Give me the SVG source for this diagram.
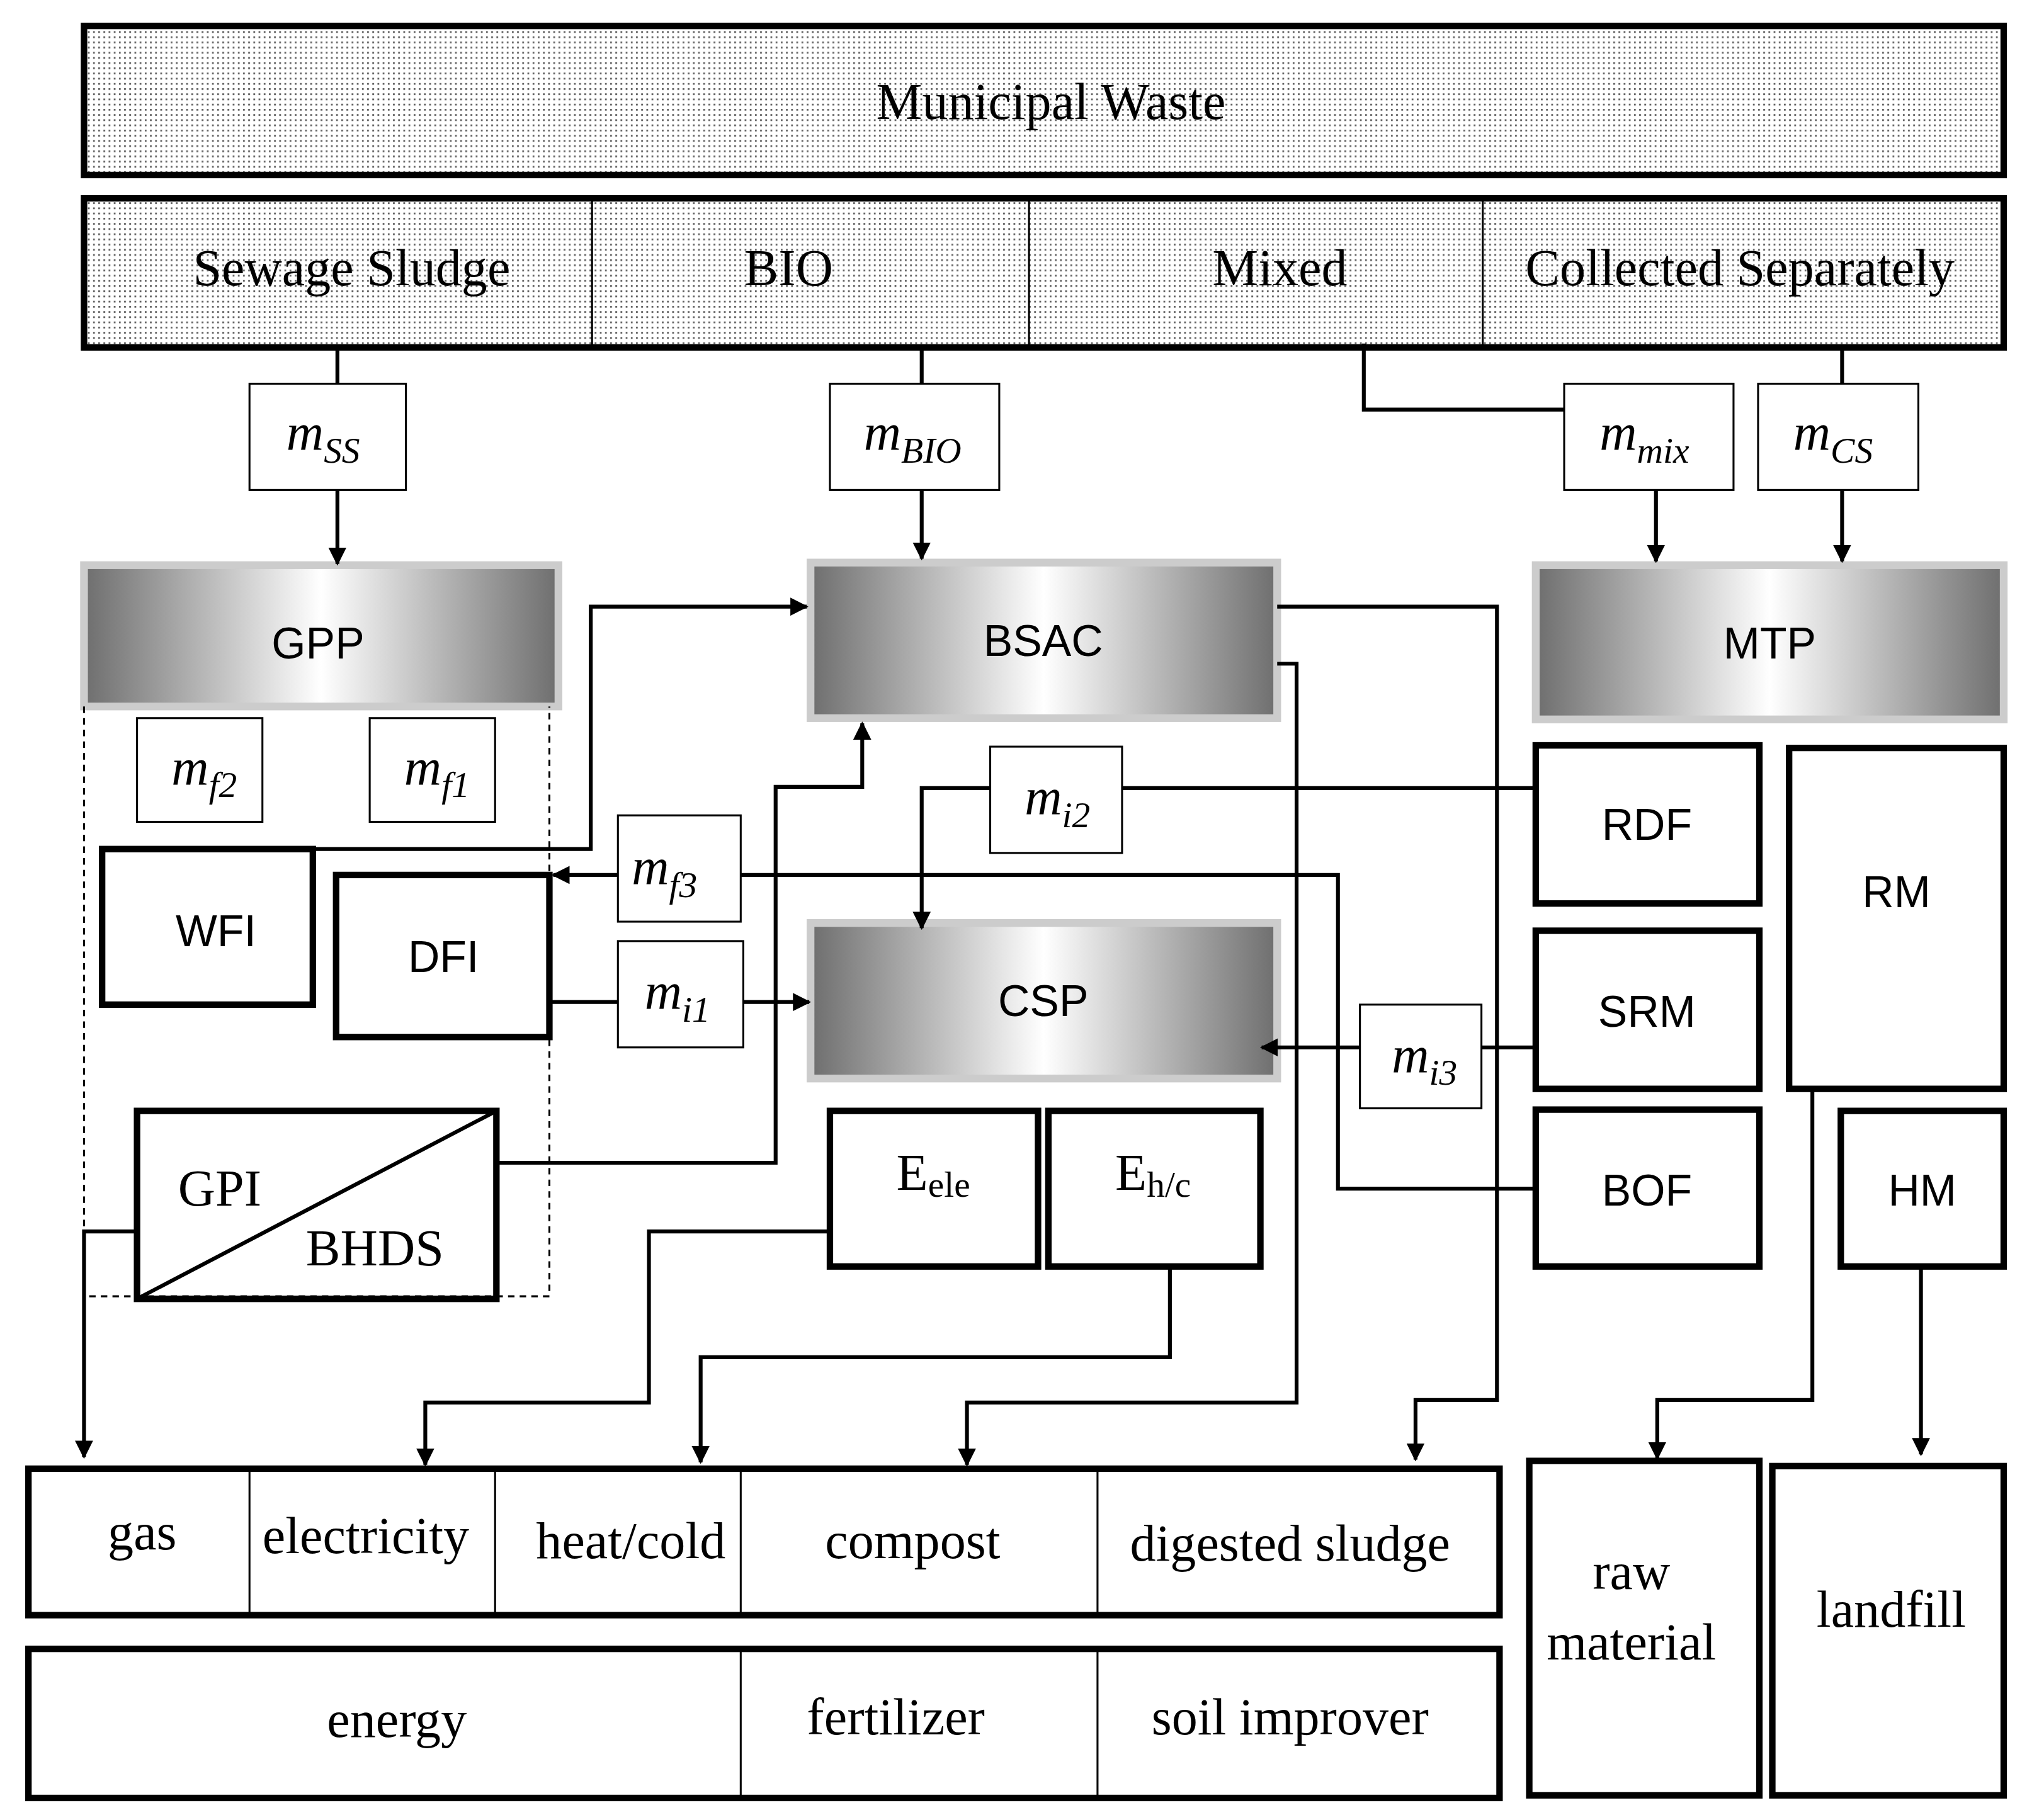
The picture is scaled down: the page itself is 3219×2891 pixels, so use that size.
<svg xmlns="http://www.w3.org/2000/svg" width="3219" height="2891" viewBox="0 0 3219 2891">
<defs>
<pattern id="dots" width="4" height="4" patternUnits="userSpaceOnUse"><rect width="4" height="4" fill="#fff"/><rect width="1.4" height="1.4" fill="#666"/></pattern>
<linearGradient id="gh" x1="0" x2="1" y1="0" y2="0"><stop offset="0" stop-color="#6e6e6e"/><stop offset="0.5" stop-color="#ffffff"/><stop offset="1" stop-color="#6e6e6e"/></linearGradient>
<marker id="ar" viewBox="0 0 10 10" refX="9" refY="5" markerWidth="14" markerHeight="14" markerUnits="userSpaceOnUse" orient="auto"><path d="M0,0 L10,5 L0,10 z" fill="#000"/></marker>
<style>
.thick{fill:#fff;stroke:#000;stroke-width:5}
.thin{fill:#fff;stroke:#000;stroke-width:1.5}
.dot{fill:url(#dots);stroke:#000;stroke-width:5}
.proc{fill:url(#gh);stroke:#ccc;stroke-width:6}
.ser{font-family:"Liberation Serif",serif;font-size:40px;text-anchor:middle}
.san{font-family:"Liberation Sans",sans-serif;font-size:34px;text-anchor:middle}
.m{font-family:"Liberation Serif",serif;font-style:italic;font-size:40px;text-anchor:middle}
.c{fill:none;stroke:#000;stroke-width:3}
.ca{fill:none;stroke:#000;stroke-width:3;marker-end:url(#ar)}
</style>
</defs>
<rect width="3219" height="2891" fill="#fff"/>
<g transform="scale(2.0529,2.0591)">
<g id="municipal"><rect class="dot" x="65" y="20" width="1485" height="115"/><text class="ser" x="813" y="92">Municipal Waste</text></g>
<g id="sources"><rect class="dot" x="65" y="153" width="1485" height="115"/>
<line x1="458" y1="153" x2="458" y2="268" stroke="#000" stroke-width="1.5"/><line x1="796" y1="153" x2="796" y2="268" stroke="#000" stroke-width="1.5"/><line x1="1147" y1="153" x2="1147" y2="268" stroke="#000" stroke-width="1.5"/>
<text class="ser" x="272" y="220">Sewage Sludge</text><text class="ser" x="610" y="220">BIO</text><text class="ser" x="990" y="220">Mixed</text><text class="ser" x="1346" y="220">Collected Separately</text></g>
<g id="mSS"><rect class="thin" x="193" y="296" width="121" height="82"/><text class="m" x="250" y="347">m<tspan font-size="28" dy="10">SS</tspan></text></g>
<g id="mBIO"><rect class="thin" x="642" y="296" width="131" height="82"/><text class="m" x="706" y="347">m<tspan font-size="28" dy="10">BIO</tspan></text></g>
<g id="mmix"><rect class="thin" x="1210" y="296" width="131" height="82"/><text class="m" x="1272" y="347">m<tspan font-size="28" dy="10">mix</tspan></text></g>
<g id="mCS"><rect class="thin" x="1360" y="296" width="124" height="82"/><text class="m" x="1418" y="347">m<tspan font-size="28" dy="10">CS</tspan></text></g>
<g id="GPP"><rect class="proc" x="65" y="436" width="367" height="109"/><text class="san" x="246" y="508">GPP</text></g>
<g id="BSAC"><rect class="proc" x="627" y="434" width="361" height="120"/><text class="san" x="807" y="506">BSAC</text></g>
<g id="MTP"><rect class="proc" x="1188" y="436" width="362" height="119"/><text class="san" x="1369" y="508">MTP</text></g>
<g id="CSP"><rect class="proc" x="627" y="712" width="361" height="120"/><text class="san" x="807" y="784">CSP</text></g>
<g id="mf2"><rect class="thin" x="106" y="554" width="97" height="80"/><text class="m" x="158" y="605">m<tspan font-size="28" dy="10">f2</tspan></text></g>
<g id="mf1"><rect class="thin" x="286" y="554" width="97" height="80"/><text class="m" x="338" y="605">m<tspan font-size="28" dy="10">f1</tspan></text></g>
<g id="mf3"><rect class="thin" x="478" y="629" width="95" height="82"/><text class="m" x="514" y="682">m<tspan font-size="28" dy="10">f3</tspan></text></g>
<g id="mi1"><rect class="thin" x="478" y="726" width="97" height="82"/><text class="m" x="524" y="778">m<tspan font-size="28" dy="10">i1</tspan></text></g>
<g id="mi2"><rect class="thin" x="766" y="576" width="102" height="82"/><text class="m" x="818" y="628">m<tspan font-size="28" dy="10">i2</tspan></text></g>
<g id="mi3"><rect class="thin" x="1052" y="775" width="94" height="80"/><text class="m" x="1102" y="827">m<tspan font-size="28" dy="10">i3</tspan></text></g>
<g id="WFI"><rect class="thick" x="79" y="655" width="163" height="120"/><text class="san" x="167" y="730">WFI</text></g>
<g id="DFI"><rect class="thick" x="260" y="675" width="165" height="125"/><text class="san" x="343" y="750">DFI</text></g>
<g id="GPI-BHDS"><rect class="thick" x="106" y="857" width="278" height="145"/><line x1="106" y1="1002" x2="384" y2="857" stroke="#000" stroke-width="3"/><text class="ser" x="170" y="930">GPI</text><text class="ser" x="290" y="976">BHDS</text></g>
<g id="Eele"><rect class="thick" x="642" y="857" width="161" height="120"/><text class="ser" x="722" y="918">E<tspan font-size="28" dy="5">ele</tspan></text></g>
<g id="Ehc"><rect class="thick" x="811" y="857" width="164" height="120"/><text class="ser" x="892" y="918">E<tspan font-size="28" dy="5">h/c</tspan></text></g>
<g id="RDF"><rect class="thick" x="1188" y="575" width="173" height="122"/><text class="san" x="1274" y="648">RDF</text></g>
<g id="SRM"><rect class="thick" x="1188" y="718" width="173" height="122"/><text class="san" x="1274" y="792">SRM</text></g>
<g id="BOF"><rect class="thick" x="1188" y="856" width="173" height="121"/><text class="san" x="1274" y="930">BOF</text></g>
<g id="RM"><rect class="thick" x="1384" y="577" width="166" height="263"/><text class="san" x="1467" y="700">RM</text></g>
<g id="HM"><rect class="thick" x="1424" y="857" width="126" height="120"/><text class="san" x="1487" y="930">HM</text></g>
<g id="products"><rect class="thick" x="22" y="1133" width="1138" height="113"/>
<g stroke="#000" stroke-width="1.5"><line x1="193" y1="1133" x2="193" y2="1246"/><line x1="383" y1="1133" x2="383" y2="1246"/><line x1="573" y1="1133" x2="573" y2="1246"/><line x1="849" y1="1133" x2="849" y2="1246"/></g>
<text class="ser" x="110" y="1195">gas</text><text class="ser" x="283" y="1198">electricity</text><text class="ser" x="488" y="1202">heat/cold</text><text class="ser" x="706" y="1202">compost</text><text class="ser" x="998" y="1204">digested sludge</text></g>
<g id="uses"><rect class="thick" x="22" y="1272" width="1138" height="115"/>
<g stroke="#000" stroke-width="1.5"><line x1="573" y1="1272" x2="573" y2="1387"/><line x1="849" y1="1272" x2="849" y2="1387"/></g>
<text class="ser" x="307" y="1340">energy</text><text class="ser" x="693" y="1338">fertilizer</text><text class="ser" x="998" y="1338">soil improver</text></g>
<g id="raw"><rect class="thick" x="1183" y="1127" width="178" height="258"/><text class="ser" x="1262" y="1226">raw</text><text class="ser" x="1262" y="1280">material</text></g>
<g id="landfill"><rect class="thick" x="1371" y="1131" width="179" height="254"/><text class="ser" x="1463" y="1255">landfill</text></g>
<g id="connectors">
<polyline class="c" points="261,268 261,296"/><polyline class="ca" points="261,378 261,435"/>
<polyline class="c" points="713,268 713,296"/><polyline class="ca" points="713,378 713,431"/>
<polyline class="c" points="1055,265 1055,316 1210,316"/><polyline class="ca" points="1281,378 1281,433"/>
<polyline class="c" points="1425,268 1425,296"/><polyline class="ca" points="1425,378 1425,433"/>
<polyline class="ca" points="242,655 457,655 457,468 624,468"/>
<polyline class="c" points="1188,917 1035,917 1035,675 573,675"/><polyline class="ca" points="478,675 428,675"/>
<polyline class="c" points="425,773 478,773"/><polyline class="ca" points="575,773 626,773"/>
<polyline class="c" points="1188,608 868,608"/><polyline class="ca" points="766,608 713,608 713,716"/>
<polyline class="c" points="1188,808 1146,808"/><polyline class="ca" points="1052,808 976,808"/>
<polyline class="ca" points="384,897 600,897 600,607 667,607 667,558"/>
<polyline class="ca" points="106,950 65,950 65,1124"/>
<polyline class="ca" points="642,950 502,950 502,1082 329,1082 329,1130"/>
<polyline class="ca" points="905,977 905,1047 542,1047 542,1128"/>
<polyline class="ca" points="988,468 1158,468 1158,1080 1095,1080 1095,1126"/>
<polyline class="ca" points="988,512 1003,512 1003,1082 748,1082 748,1130"/>
<polyline class="ca" points="1402,840 1402,1080 1282,1080 1282,1125"/>
<polyline class="ca" points="1486,977 1486,1122"/>
<path d="M65,545 V1000 H425 V545" fill="none" stroke="#000" stroke-width="1.5" stroke-dasharray="5,4"/>
</g>
</g>
</svg>
